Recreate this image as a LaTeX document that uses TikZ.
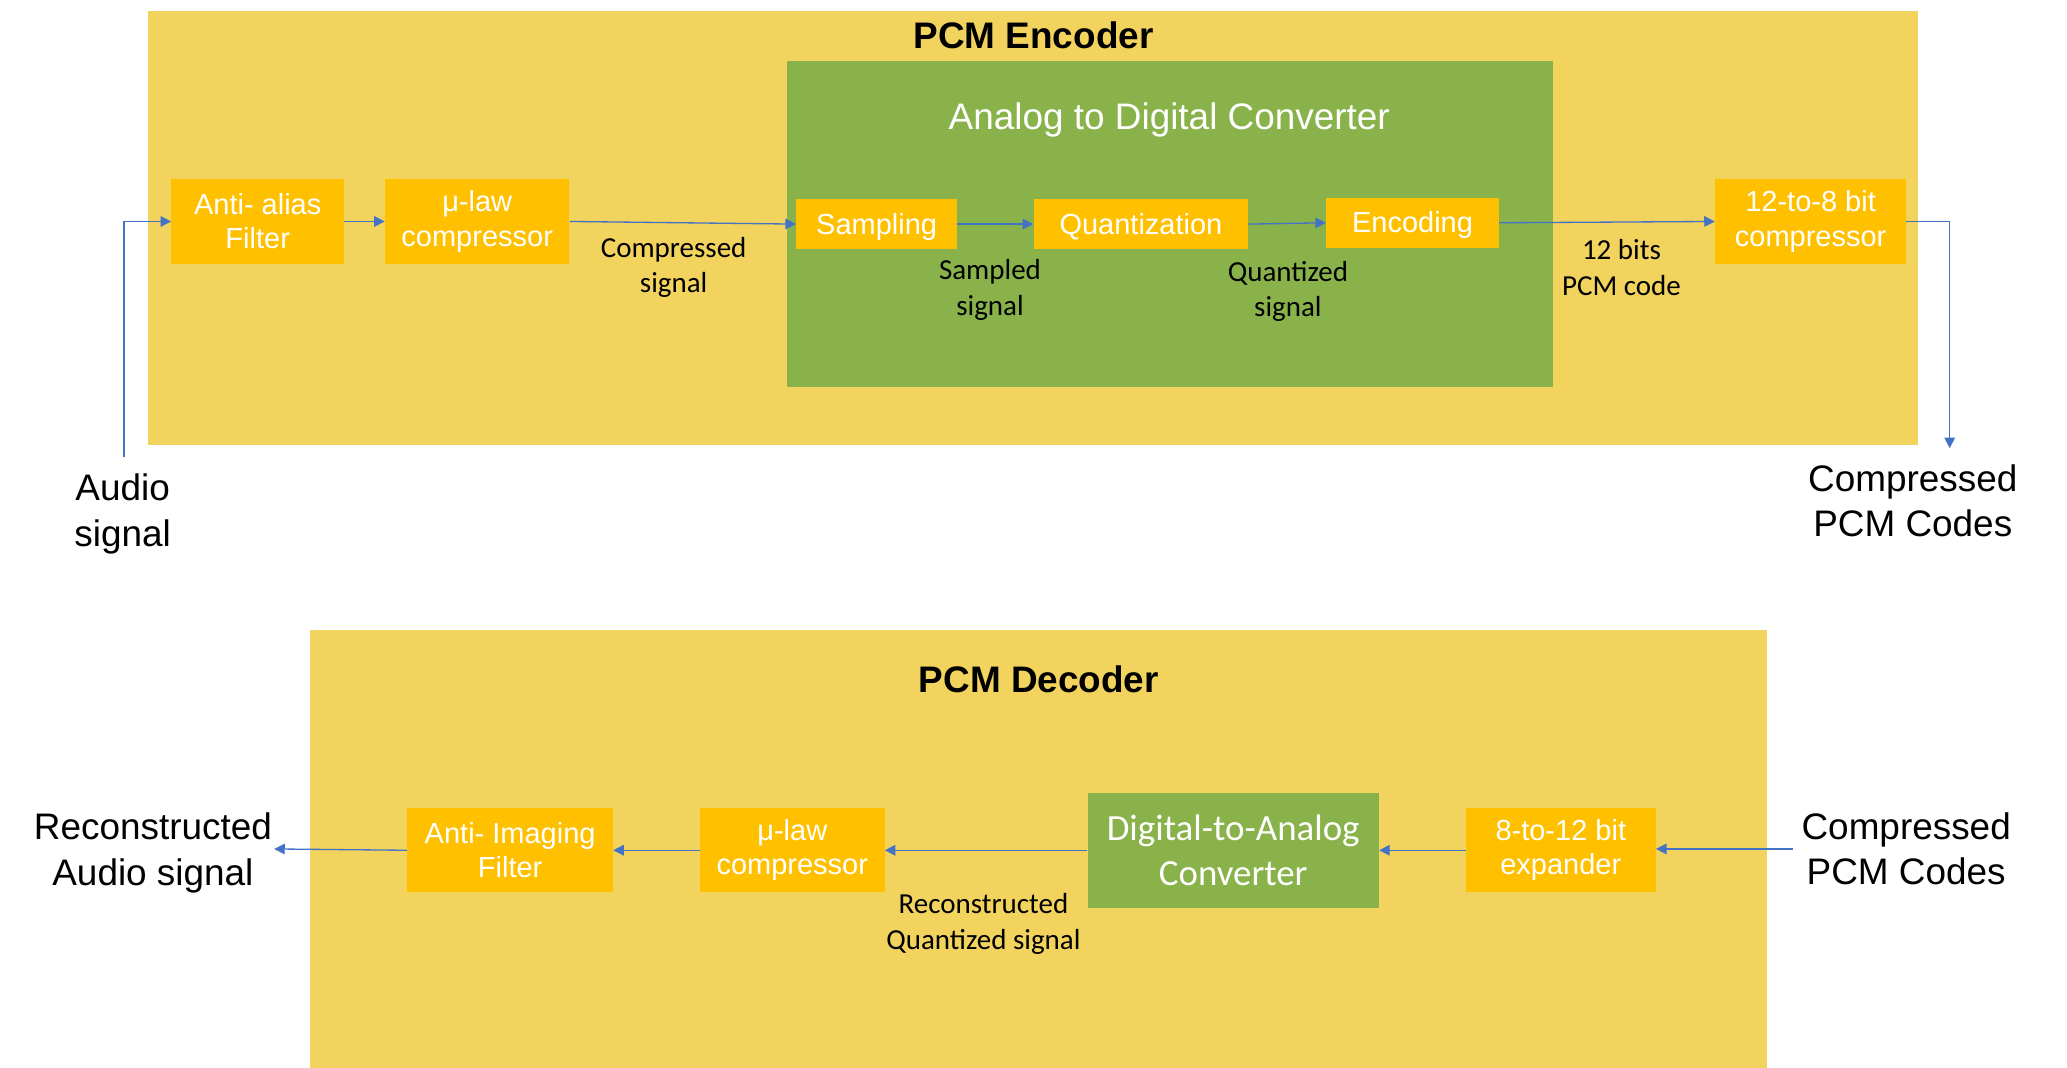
\documentclass[tikz,border=0pt]{standalone}
\usepackage{fontspec}
\setmainfont{Liberation Sans}
\newfontfamily\calfont{Carlito}
\usetikzlibrary{arrows.meta}
\definecolor{encbg}{RGB}{242,211,94}
\definecolor{boxor}{RGB}{255,192,0}
\definecolor{adcgreen}{RGB}{137,179,74}
\definecolor{arrblue}{RGB}{68,114,196}
\begin{document}
\begin{tikzpicture}[x=1pt,y=-1pt,
  panel/.style={fill=encbg, inner sep=0, anchor=north west},
  greenbox/.style={fill=adcgreen, inner sep=0, anchor=north west},
  blk/.style={fill=boxor, text=white, inner sep=0, align=center, font=\fontsize{22}{26}\selectfont},
  blkone/.style={blk, text height=20pt},
  lbl/.style={inner sep=0, align=center, font=\calfont\fontsize{22}{27}\selectfont},
  outer/.style={inner sep=0, align=center, font=\fontsize{28}{34.5}\selectfont},
  ttl/.style={inner sep=0, font=\bfseries\fontsize{28}{34}\selectfont},
  arr/.style={draw=arrblue, line width=1pt, -{Triangle[length=8pt,width=8pt]}}]
\useasboundingbox (0,0) rectangle (1568,810);

% ---------------- Encoder ----------------
\node[panel, minimum width=1343, minimum height=329] (enc) at (112,8) {};
\node[ttl] (enctitle) at (784,27) {PCM Encoder};
\node[greenbox, minimum width=581, minimum height=247] (adc) at (597,46) {};
\node[inner sep=0, text=white, font=\fontsize{28}{34}\selectfont] (adctitle) at (887,91) {Analog to Digital Converter};

\node[blk, minimum width=131, minimum height=64] (aa) at (195.5,168) {Anti- alias\\Filter};
\node[blk, minimum width=140, minimum height=64] (mu) at (362,168) {μ-law\\compressor};
\node[blkone, minimum width=122, minimum height=38] (samp) at (665,170) {Sampling};
\node[blkone, minimum width=163, minimum height=38] (quant) at (865.5,170) {Quantization};
\node[blkone, minimum width=131, minimum height=38] (encd) at (1071.5,169) {Encoding};
\node[blk, minimum width=145, minimum height=64] (ct) at (1373.5,168) {12-to-8 bit\\compressor};

\node[lbl] (l1) at (511,203) {Compressed\\signal};
\node[lbl] (l2) at (751,220) {Sampled\\signal};
\node[lbl] (l3) at (977,221) {Quantized\\signal};
\node[lbl] (l4) at (1230,203) {12 bits\\PCM code};

\node[outer] (audio) at (93,390) {Audio\\signal};
\node[outer] (cpcm1) at (1451,380) {Compressed\\PCM Codes};
\coordinate (ain) at (94,347);
\coordinate (cout) at (1479,340);

\draw[arr] (ain) |- (aa.west);
\draw[arr] (aa) -- (mu);
\draw[arr] (mu.east) -- (samp.west);
\draw[arr] (samp) -- (quant);
\draw[arr] (quant.east) -- (encd.west);
\draw[arr] (encd.east) -- (ct.west);
\draw[arr] (ct.east) -| (cout);

% ---------------- Decoder ----------------
\node[panel, minimum width=1105, minimum height=332] (dec) at (235,478) {};
\node[ttl] (dectitle) at (788,515) {PCM Decoder};

\node[blk, minimum width=156, minimum height=64] (ai) at (387,645) {Anti- Imaging\\Filter};
\node[blk, minimum width=140, minimum height=64] (mud) at (601,645) {μ-law\\compressor};
\node[fill=adcgreen, text=white, inner sep=0, align=center, minimum width=221, minimum height=87,
      font=\calfont\fontsize{28}{34}\selectfont] (dac) at (935.5,645) {Digital-to-Analog\\Converter};
\node[blk, minimum width=144, minimum height=64] (exp) at (1184,645) {8-to-12 bit\\expander};

\node[lbl] (l5) at (746,701) {Reconstructed\\Quantized signal};
\node[outer] (cpcm2) at (1446,644) {Compressed\\PCM Codes};
\node[outer] (recon) at (116,647) {Reconstructed\\Audio signal};
\coordinate (din) at (1360,644);
\coordinate (dout) at (208,644);

\draw[arr] (din) -- (din -| exp.east);
\draw[arr] (exp.west) -- (dac.east |- exp.west);
\draw[arr] (dac.west |- mud.east) -- (mud.east);
\draw[arr] (mud) -- (ai);
\draw[arr] (ai.west) -- (dout);
\end{tikzpicture}
\end{document}
